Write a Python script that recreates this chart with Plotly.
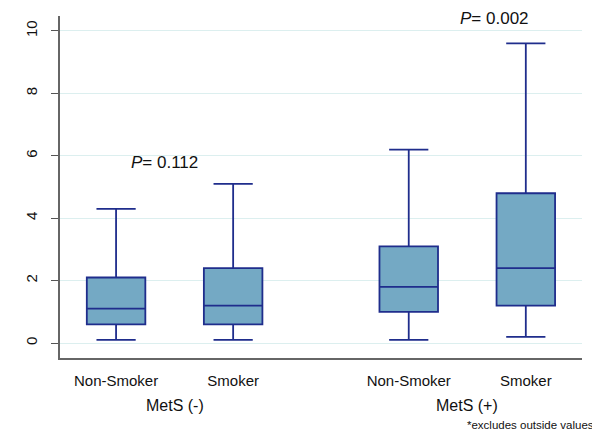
import plotly.graph_objects as go

# Data
categories = ["Non-Smoker", "Smoker", "Non-Smoker", "Smoker"]
groups = ["MetS (-)", "MetS (+)"]
lower = [0.1, 0.1, 0.1, 0.2]
q1 = [0.6, 0.6, 1.0, 1.2]
median = [1.1, 1.2, 1.8, 2.4]
q3 = [2.1, 2.4, 3.1, 4.8]
upper = [4.3, 5.1, 6.2, 9.6]
p_values = ["0.112", "0.002"]
y_ticks = [0, 2, 4, 6, 8, 10]

x_pos = [0, 1, 2.5, 3.5]
group_centers = [0.5, 3.0]

LINE = "#1f2d8c"
FILL = "#74a9c4"

fig = go.Figure()
fig.add_trace(go.Box(
    x=x_pos,
    lowerfence=lower, q1=q1, median=median, q3=q3, upperfence=upper,
    fillcolor=FILL,
    line=dict(color=LINE, width=1.8),
    width=0.5,
    whiskerwidth=0.67,
    boxpoints=False,
    hoverinfo="skip",
    showlegend=False,
))

font = "Liberation Sans, Arial, Helvetica, sans-serif"

annotations = []
for gx, g in zip(group_centers, groups):
    annotations.append(dict(x=gx, y=-0.14, xref="x", yref="paper", text=g,
                            showarrow=False, font=dict(size=16, color="#111", family=font),
                            xanchor="center", yanchor="middle"))
annotations.append(dict(x=0.41, y=5.8, xref="x", yref="y", text="<i>P</i>= " + p_values[0],
                        showarrow=False, font=dict(size=17, color="#111", family=font)))
annotations.append(dict(x=3.23, y=10.41, xref="x", yref="y", text="<i>P</i>= " + p_values[1],
                        showarrow=False, font=dict(size=17, color="#111", family=font)))
annotations.append(dict(x=1.027, y=-0.196, xref="paper", yref="paper", text="*excludes outside values",
                        showarrow=False, font=dict(size=11.5, color="#111", family=font),
                        xanchor="right", yanchor="middle"))

# page body has an 8px margin, so the figure is sized to fit the 600x443 window
fig.update_layout(
    width=592, height=435,
    margin=dict(l=52, r=18, t=8, b=85),
    paper_bgcolor="white",
    plot_bgcolor="white",
    font=dict(family=font, color="#111"),
    annotations=annotations,
)

fig.update_xaxes(
    range=[-0.479, 3.98],
    tickvals=x_pos, ticktext=categories,
    showgrid=False, zeroline=False,
    showline=True, linecolor="#666", linewidth=1.5,
    ticks="", tickfont=dict(size=15, color="#111"),
    ticklabelstandoff=8,
)
fig.update_yaxes(
    range=[-0.48, 10.48],
    tickvals=y_ticks,
    tickangle=-90,
    showgrid=True, gridcolor="#dcefef", gridwidth=1,
    zeroline=False,
    showline=True, linecolor="#666", linewidth=1.5,
    ticks="outside", ticklen=7, tickcolor="#555", tickwidth=1,
    tickfont=dict(size=15, color="#111"),
    ticklabelstandoff=8,
)

fig.write_html("out.html")
